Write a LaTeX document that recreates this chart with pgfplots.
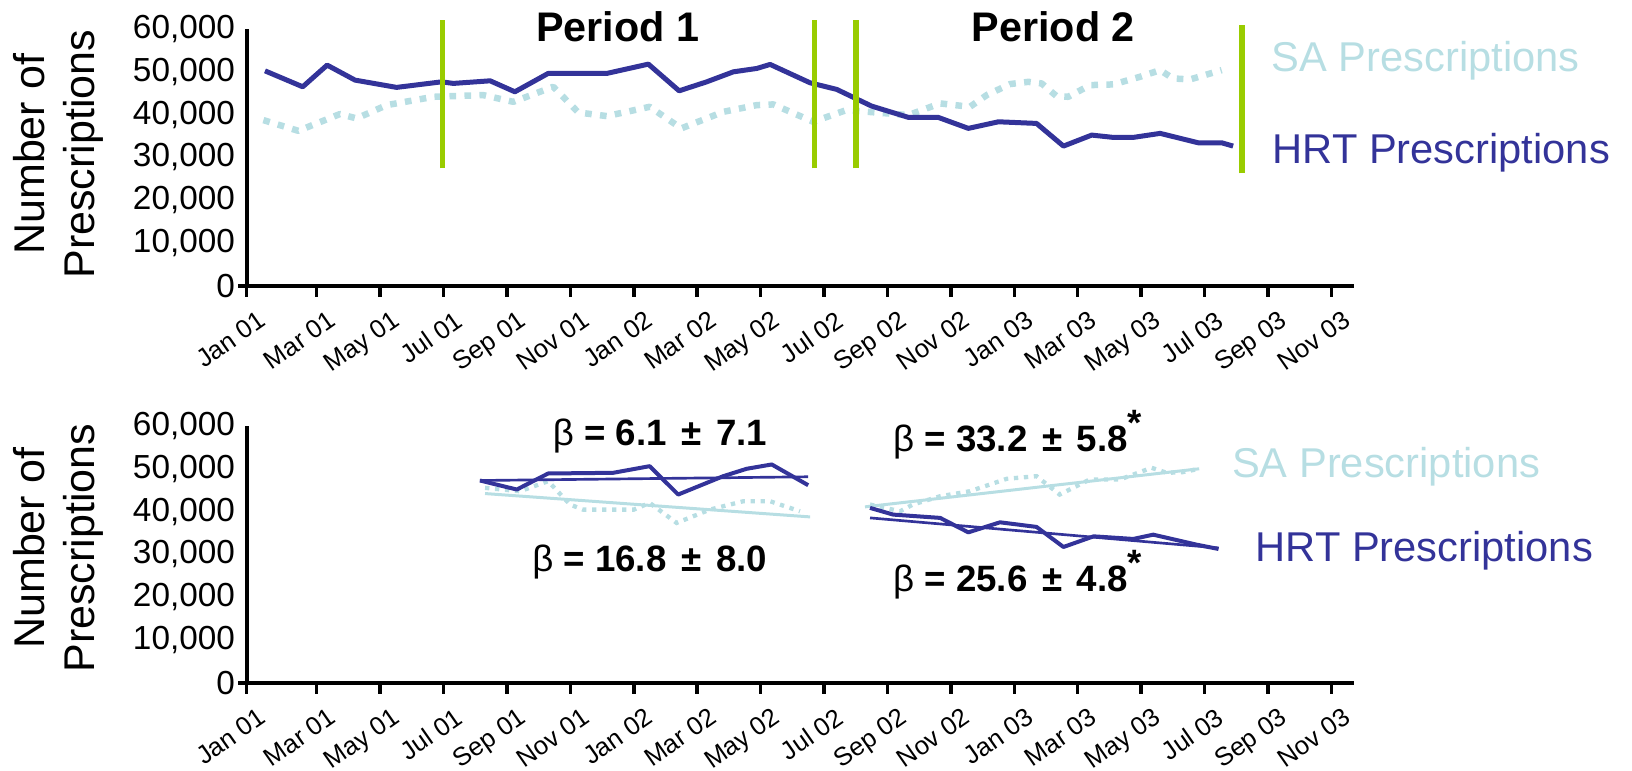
\documentclass[border=0pt]{standalone}
\usepackage{fontspec}
\setmainfont{Liberation Sans}
\usepackage{pgfplots}
\pgfplotsset{compat=1.18}
\definecolor{hrt}{HTML}{333399}
\definecolor{sa}{HTML}{B7DEE3}
\definecolor{cut}{HTML}{99CC00}

\pgfplotsset{
  panel/.style={
    scale only axis, width=332.1pt, height=77pt,
    xmin=-0.21, xmax=34.7, ymin=0, ymax=60000,
    axis x line=bottom, axis y line=left,
    axis line style={-, line width=1.2pt},
    clip=false, scaled y ticks=false,
    xtick={-0.21,2,4,6,8,10,12,14,16,18,20,22,24,26,28,30,32,34},
    xticklabels={\mbox{Jan 01},\mbox{Mar 01},\mbox{May 01},\mbox{Jul 01},\mbox{Sep 01},\mbox{Nov 01},
      \mbox{Jan 02},\mbox{Mar 02},\mbox{May 02},\mbox{Jul 02},\mbox{Sep 02},\mbox{Nov 02},
      \mbox{Jan 03},\mbox{Mar 03},\mbox{May 03},\mbox{Jul 03},\mbox{Sep 03},\mbox{Nov 03}},
    ytick={0,10000,20000,30000,40000,50000,60000},
    yticklabels={\mbox{0},\mbox{10,000},\mbox{20,000},\mbox{30,000},\mbox{40,000},\mbox{50,000},\mbox{60,000}},
    tick align=outside, major tick length=3.3pt,
    xtick style={line width=1.05pt, black},
    ytick style={draw=none},
    xticklabel style={font=\fontsize{7.7}{9}\selectfont, rotate=35, anchor=north east, inner sep=0pt, xshift=0.5pt, yshift=-4.8pt},
    yticklabel style={font=\fontsize{10}{11}\selectfont, anchor=east, inner sep=0pt},
  },
}

\newcommand{\pmsep}{\hspace{0.4em}±\hspace{0.4em}}

\begin{document}
\begin{tikzpicture}
\useasboundingbox (0,0) rectangle (489.6pt,231pt);

% top panel: full series
\begin{axis}[panel, at={(73.98pt,145.29pt)}, anchor=south west]
\addplot[sa, line width=1.95pt, dash pattern=on 2pt off 2.5pt, line join=round] coordinates {
(0.32,38710) (1.42,36210) (2.73,40120) (3.26,39110) (4.21,42220) (5.68,44160)
(7.25,44560) (8.20,42990) (9.46,46500) (10.25,40500) (11.15,39650) (12.50,41820)
(13.50,36780) (14.82,40650) (15.88,42220) (16.40,42380) (17.66,38320) (18.70,41050)
(19.77,40420) (20.66,39880) (21.66,42620) (22.60,41820) (23.13,44560) (23.86,47130)
(24.44,47660) (24.86,47290) (25.33,44320) (25.70,44160) (26.39,46890) (27.12,47060)
(27.96,48830) (28.60,50400) (29.00,48460) (29.54,48220) (30.54,50400)
};
\addplot[hrt, line width=1.5pt, line join=round] coordinates {
(0.37,50230) (1.56,46500) (2.33,51570) (3.21,48060) (4.52,46360) (5.94,47660)
(6.31,47290) (7.47,47900) (8.25,45330) (9.30,49630) (11.15,49630) (12.46,51800)
(13.43,45560) (14.30,47660) (15.14,50000) (15.88,50790) (16.30,51730) (17.56,47430)
(18.40,45890) (19.50,41990) (20.66,39350) (21.60,39350) (22.55,36780) (23.50,38320)
(24.70,37940) (25.55,32640) (26.44,35210) (27.12,34670) (27.75,34670) (28.60,35610)
(29.80,33410) (30.54,33410) (30.90,32640)
};
\addplot[cut, line width=1.7pt] coordinates {(5.97,27430) (5.97,62080)};
\addplot[cut, line width=1.7pt] coordinates {(17.70,27430) (17.70,62080)};
\addplot[cut, line width=1.7pt] coordinates {(19.00,27430) (19.00,62080)};
\addplot[cut, line width=1.7pt] coordinates {(31.18,26260) (31.18,60900)};
\draw[line width=1.2pt] (axis cs:-0.21,0) -- ++(-4.5pt,0);
\end{axis}

% bottom panel: two periods with fitted trends
\begin{axis}[panel, at={(73.98pt,26.19pt)}, anchor=south west]
\addplot[sa, line width=1.3pt, dash pattern=on 1.3pt off 1.7pt] coordinates {
(7.31,45560) (8.41,44760) (9.30,47110) (9.99,41650) (10.40,40470) (12.00,40470)
(12.50,42040) (13.35,37360) (14.40,40470) (15.45,42420) (16.30,42420) (17.24,40080)
};
\addplot[sa, line width=0.9pt] coordinates {(7.31,44220) (17.56,38760)};
\addplot[hrt, line width=1.2pt, line join=round] coordinates {
(7.15,47270) (8.31,45160) (9.30,48910) (11.35,49070) (12.50,50620) (13.40,43990)
(14.82,48280) (15.56,50010) (16.35,51020) (17.50,46170)
};
\addplot[hrt, line width=0.8pt] coordinates {(7.15,47270) (17.50,48140)};
\addplot[sa, line width=1.3pt, dash pattern=on 1.3pt off 1.7pt] coordinates {
(19.45,41650) (20.40,40080) (20.80,41650) (21.66,43590) (22.60,44760) (23.23,46330)
(23.76,47670) (24.70,48280) (25.43,43990) (26.38,47500) (27.33,47500) (28.33,50250)
(28.80,49070) (29.30,49210) (29.83,50010)
};
\addplot[sa, line width=0.9pt] coordinates {(19.29,41110) (29.83,50010)};
\addplot[hrt, line width=1.2pt, line join=round] coordinates {
(19.45,40870) (20.18,39300) (21.66,38530) (22.55,35150) (23.55,37500) (24.70,36420)
(25.55,31730) (26.50,34220) (27.75,33610) (28.38,34610) (29.75,32270) (30.44,31260)
};
\addplot[hrt, line width=0.8pt] coordinates {(19.45,38530) (30.44,31500)};
\draw[line width=1.2pt] (axis cs:-0.21,0) -- ++(-4.5pt,0);
\end{axis}

% axis titles
\node[rotate=90, anchor=north, align=center, inner sep=0pt, font=\fontsize{12.9}{15.1}\selectfont]
  at (3.7pt,184.7pt) {Number of\\Prescriptions};
\node[rotate=90, anchor=north, align=center, inner sep=0pt, font=\fontsize{12.9}{15.1}\selectfont]
  at (3.7pt,66.5pt) {Number of\\Prescriptions};

% period headings
\node[anchor=base, inner sep=0pt, font=\fontsize{12.4}{14}\selectfont\bfseries] at (185.3pt,218.5pt) {Period 1};
\node[anchor=base, inner sep=0pt, font=\fontsize{12.4}{14}\selectfont\bfseries] at (316.0pt,218.5pt) {Period 2};

% series labels
\node[anchor=base west, inner sep=0pt, text=sa, font=\fontsize{12.5}{14}\selectfont] at (381.3pt,209.5pt) {SA Prescriptions};
\node[anchor=base west, inner sep=0pt, text=hrt, font=\fontsize{12.5}{14}\selectfont] at (381.6pt,182.0pt) {HRT Prescriptions};
\node[anchor=base west, inner sep=0pt, text=sa, font=\fontsize{12.5}{14}\selectfont] at (369.45pt,87.8pt) {SA Prescriptions};
\node[anchor=base west, inner sep=0pt, text=hrt, font=\fontsize{12.5}{14}\selectfont] at (376.5pt,62.5pt) {HRT Prescriptions};

% slope annotations
\node[anchor=base, inner sep=0pt, font=\fontsize{11}{13}\selectfont\bfseries] at (198.0pt,97.5pt) {{\mdseries β} = 6.1\pmsep7.1};
\node[anchor=base, inner sep=0pt, font=\fontsize{11}{13}\selectfont\bfseries] at (194.9pt,59.5pt) {{\mdseries β} = 16.8\pmsep8.0};
\node[anchor=base, inner sep=0pt, font=\fontsize{11}{13}\selectfont\bfseries] at (305.3pt,95.5pt) {{\mdseries β} = 33.2\pmsep5.8\raisebox{0.45em}{*}};
\node[anchor=base, inner sep=0pt, font=\fontsize{11}{13}\selectfont\bfseries] at (305.3pt,53.5pt) {{\mdseries β} = 25.6\pmsep4.8\raisebox{0.45em}{*}};
\end{tikzpicture}
\end{document}
